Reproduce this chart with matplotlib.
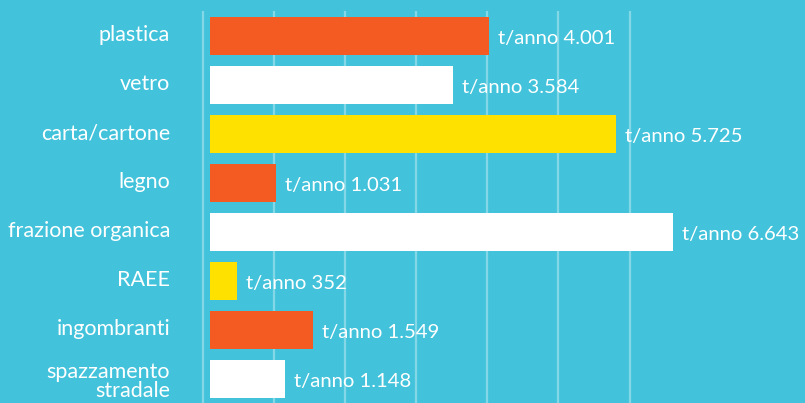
import matplotlib
matplotlib.use("Agg")
import matplotlib.pyplot as plt

categories = ["plastica", "vetro", "carta/cartone", "legno", "frazione organica",
              "RAEE", "ingombranti", "spazzamento\nstradale"]
# tonnes per year, as printed on the labels
values = [4001, 3584, 5725, 1031, 6643, 352, 1549, 1148]
# bar lengths as drawn in the picture (same units)
bar_lengths = [4003, 3486, 5825, 947, 6643, 387, 1478, 1076]
value_labels = ["t/anno 4.001", "t/anno 3.584", "t/anno 5.725", "t/anno 1.031",
                "t/anno 6.643", "t/anno 352", "t/anno 1.549", "t/anno 1.148"]
bar_colors = ["#F35B22", "#FFFFFF", "#FFE100", "#F35B22", "#FFFFFF",
              "#FFE100", "#F35B22", "#FFFFFF"]
grid_positions = [-100, 918, 1937, 2955, 3974, 4993, 6026]

BG = "#42C3DB"
plt.rcParams['font.family'] = ['Lato', 'DejaVu Sans']

W, H = 805, 403
fig = plt.figure(figsize=(W / 100, H / 100), dpi=100)
fig.patch.set_facecolor(BG)
ax = fig.add_axes([0, 0, 1, 1])
ax.set_facecolor(BG)

px_per_unit = 0.0697
x0_px = 210
ax.set_xlim(-x0_px / px_per_unit, (W - x0_px) / px_per_unit)
pitch = 49.0
c0 = 36.0
ax.set_ylim((H - c0) / pitch, -c0 / pitch)

ypos = list(range(len(categories)))
grid_top = (11 - c0) / pitch
ax.vlines(grid_positions, grid_top, (H - c0) / pitch + 1, colors="white",
          alpha=0.35, linewidth=1.6, zorder=1)

ax.barh(ypos, bar_lengths, height=38 / pitch, color=bar_colors, zorder=2)

for y, L, lab in zip(ypos, bar_lengths, value_labels):
    ax.text(L + 9 / px_per_unit, y + 0.05, lab, color="white", fontsize=14.6,
            va="center", ha="left", zorder=3)

for y, cat in zip(ypos, categories):
    yy = y - 0.02
    if "\n" in cat:
        yy = y + 0.05
    ax.text(-40 / px_per_unit, yy, cat, color="white", fontsize=15.5,
            va="center", ha="right", linespacing=0.92, zorder=3)

ax.axis("off")
fig.savefig("out.png", dpi=100, facecolor=BG)
